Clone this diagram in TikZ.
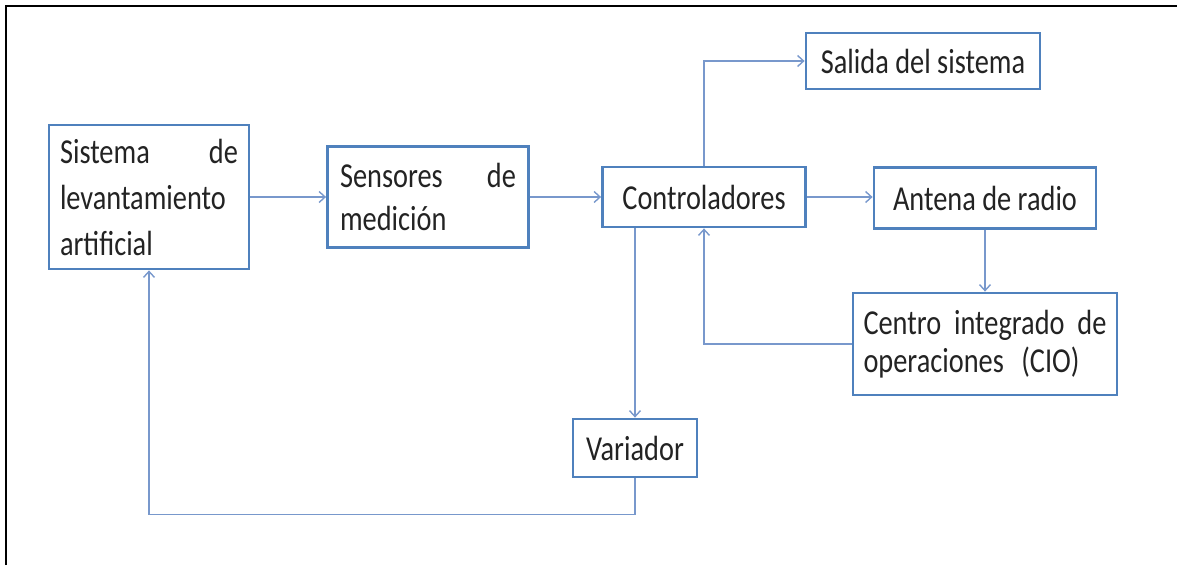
\documentclass[tikz,border=0pt]{standalone}
\usepackage{fontspec}
\setmainfont{Carlito}[FakeStretch=0.81]
\usepackage{tikz}
\usetikzlibrary{arrows.meta, calc}
\definecolor{bordeazul}{RGB}{79,129,189}
\definecolor{flechaazul}{RGB}{120,152,204}
\definecolor{textogris}{RGB}{35,35,35}

\begin{document}
\begin{tikzpicture}[x=1pt, y=-1pt,
        caja/.style={draw=bordeazul, line width=2.8pt, fill=white, text=textogris,
            font=\fontsize{35}{46}\selectfont, inner sep=0pt, anchor=center},
        flecha/.style={draw=flechaazul, line width=1.4pt,
            -{Straight Barb[length=6pt, width=11pt, line width=1.4pt]}}]
        \useasboundingbox (0,0) rectangle (1177,565);
        % marco de la figura
        \draw[line width=2pt] (6,565) -- (6,6) -- (1177,6);

        \node[caja, minimum width=200, minimum height=144, text width=178, align=left]
            (sis) at (149,197) {Sistema\hfill de\\levantamiento\\artificial};
        \node[caja, minimum width=201, minimum height=101, text width=176, align=left,
            font=\fontsize{35}{43}\selectfont]
            (sen) at (428,197) {Sensores\hfill de\\medici\'on};
        \node[caja, minimum width=203, minimum height=60] (con) at (704,197) {Controladores};
        \node[caja, minimum width=234, minimum height=56] (sal) at (923,61) {Salida del sistema};
        \node[caja, minimum width=222, minimum height=61] (ant) at (985,198) {Antena de radio};
        \node[caja, minimum width=264, minimum height=102, text width=243, align=left,
            font=\fontsize{35}{38}\selectfont]
            (cen) at (985,344) {Centro\hfill integrado\hfill de\\operaciones\hspace{0.5em}(CIO)};
        \node[caja, minimum width=124, minimum height=58] (var) at (635,448) {Variador};

        \draw[flecha] (sis.east) -- (sis.east -| sen.west);
        \draw[flecha] (sen.east) -- (sen.east -| con.west);
        \draw[flecha] (con.north) |- (sal.west);
        \draw[flecha] (con.east) -- (con.east -| ant.west);
        \draw[flecha] (ant.south) -- (cen.north);
        \draw[flecha] (cen.west) -| (con.south);
        \draw[flecha] (var.north |- con.south) -- (var.north);
        \draw[flecha] (var.south) -- ++(0,36) -| (sis.south);
    \end{tikzpicture}
\end{document}
